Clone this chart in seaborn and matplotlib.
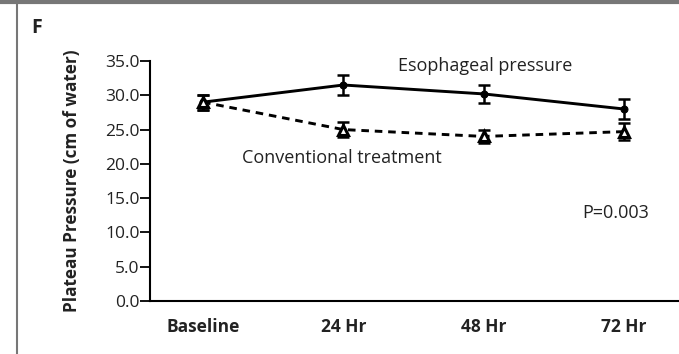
import matplotlib
matplotlib.use("Agg")
import matplotlib.pyplot as plt
import seaborn as sns
import pandas as pd
import numpy as np
from matplotlib.lines import Line2D

sns.set_theme(style="white")
plt.rcParams["font.family"] = ["Open Sans", "DejaVu Sans"]

# Plateau pressure by time point (mean and error)
timepoints = ["Baseline", "24 Hr", "48 Hr", "72 Hr"]
esophageal_mean = [29.0, 31.5, 30.2, 28.0]
esophageal_err = [1.1, 1.4, 1.3, 1.4]
conventional_mean = [29.0, 25.0, 24.0, 24.7]
conventional_err = [1.1, 1.1, 0.95, 1.2]
y_ticks = [0.0, 5.0, 10.0, 15.0, 20.0, 25.0, 30.0, 35.0]

pos = np.arange(len(timepoints))
df = pd.DataFrame({
    "pos": np.concatenate([pos, pos]),
    "value": esophageal_mean + conventional_mean,
    "err": esophageal_err + conventional_err,
    "group": ["Esophageal pressure"] * 4 + ["Conventional treatment"] * 4,
})

fig = plt.figure(figsize=(6.79, 3.54), dpi=100)
ax = fig.add_axes([150 / 679, 1 - 301 / 354, 528 / 679, 240 / 354])

sns.lineplot(data=df, x="pos", y="value", hue="group", style="group",
             hue_order=["Esophageal pressure", "Conventional treatment"],
             palette=["black", "black"],
             dashes={"Esophageal pressure": "", "Conventional treatment": (2.6, 2.0)},
             markers={"Esophageal pressure": "o", "Conventional treatment": "^"},
             linewidth=2.1, legend=False, ax=ax, zorder=3)

# style markers: small filled dot and open triangle
for ln in ax.get_lines():
    if ln.get_marker() == "o":
        ln.set_markersize(5)
        ln.set_markerfacecolor("black")
        ln.set_markeredgecolor("black")
    elif ln.get_marker() == "^":
        ln.set_markersize(7.5)
        ln.set_markerfacecolor("white")
        ln.set_markeredgecolor("black")
        ln.set_markeredgewidth(2.2)

for grp in ["Esophageal pressure", "Conventional treatment"]:
    sub = df[df["group"] == grp]
    ax.errorbar(sub["pos"], sub["value"], yerr=sub["err"], fmt="none",
                ecolor="black", elinewidth=1.8, capsize=4.5, capthick=1.8, zorder=2)

ax.set_xlim(-0.378, 3.385)
ax.set_ylim(0, 35)
ax.set_yticks(y_ticks)
ax.set_yticklabels([f"{v:.1f}" for v in y_ticks], fontsize=12.5, color="#222222")
ax.set_xticks(pos)
ax.set_xticklabels(timepoints, fontsize=12.5, fontweight="bold", color="#222222")
ax.tick_params(axis="y", direction="out", length=7, width=1.3, pad=0.5, left=True, color="black")
ax.tick_params(axis="x", length=0, pad=12)
sns.despine(ax=ax, top=True, right=True)
for sp in ["left", "bottom"]:
    ax.spines[sp].set_color("black")
    ax.spines[sp].set_linewidth(1.5)
ax.set_xlabel("")
ax.set_ylabel("Plateau Pressure (cm of water)", fontsize=12.3, fontweight="bold",
              color="#222222", labelpad=17)

ax.text(2.01, 34.3, "Esophageal pressure", ha="center", va="center", fontsize=13, color="#222222")
ax.text(0.99, 20.85, "Conventional treatment", ha="center", va="center", fontsize=13, color="#222222")
ax.text(2.94, 12.8, "P=0.003", ha="center", va="center", fontsize=13, color="#222222")

# panel frame and label
fig.add_artist(Line2D([0, 1], [1 - 1.5 / 354, 1 - 1.5 / 354], color="#777777", lw=3,
                      transform=fig.transFigure))
fig.add_artist(Line2D([16.5 / 679, 16.5 / 679], [0, 1], color="#777777", lw=1.5,
                      transform=fig.transFigure))
fig.text(31 / 679, 1 - 28 / 354, "F", fontsize=14, fontweight="bold", color="#222222",
         ha="left", va="center")

fig.savefig("out.png", dpi=100)
